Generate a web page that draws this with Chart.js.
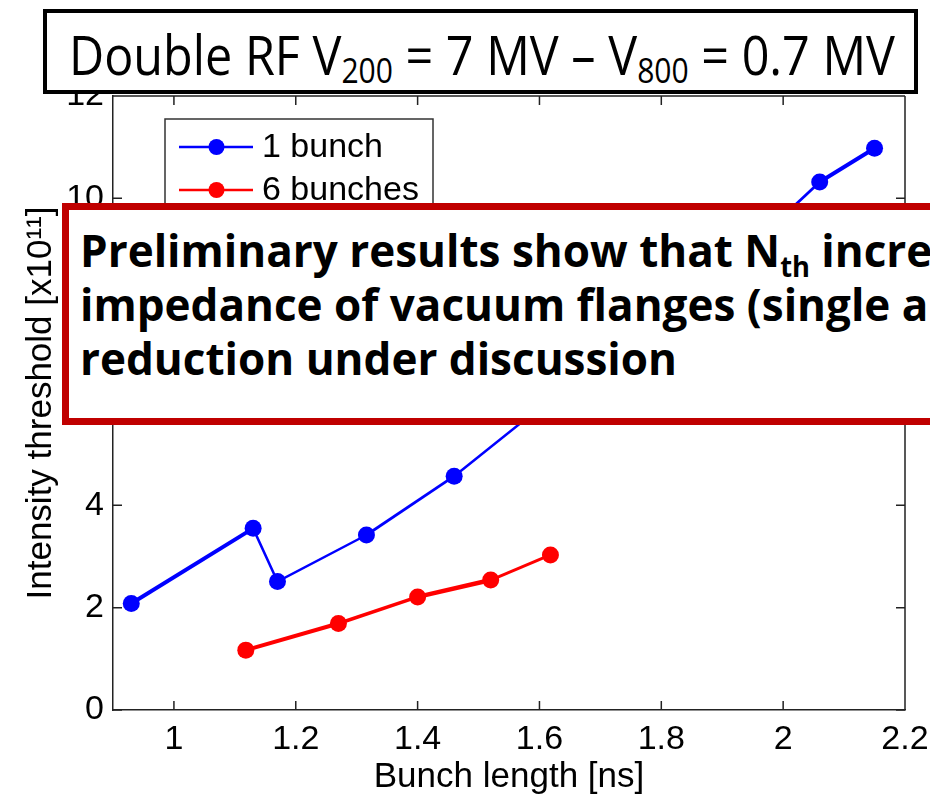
<!DOCTYPE html>
<html>
<head>
<meta charset="utf-8">
<script src="https://cdn.jsdelivr.net/npm/chart.js@4.4.1/dist/chart.umd.min.js"></script>
<style>
  html, body { margin: 0; padding: 0; background: #fff; }
  #wrap { position: relative; width: 930px; height: 797px; overflow: hidden; }
  #chart { position: absolute; left: 0; top: 0; }
  .titlebox { position: absolute; left: 43px; top: 9px; width: 875px; height: 85px; box-sizing: border-box; border: 4px solid #000; background: #fff; }
  .titletext { position: absolute; left: 69px; top: 26px; font-family: 'Open Sans', sans-serif; font-size: 55px; line-height: 55px; white-space: nowrap; transform-origin: 0 0; color: #000; }
  .titletext sub { font-size: 0.62em; line-height: 0; vertical-align: -0.24em; }
  .note { position: absolute; left: 62px; top: 203px; width: 900px; height: 222px; box-sizing: border-box; border: 7px solid #C00000; background: #fff; }
  .notetext { position: absolute; left: 80px; top: 223px; font-family: 'Open Sans', sans-serif; font-weight: bold; font-size: 45px; line-height: 54px; white-space: nowrap; transform-origin: 0 0; color: #000; }
  .notetext sub { font-size: 0.62em; line-height: 0; vertical-align: -0.36em; }
</style>
</head>
<body>
<div id="wrap">
  <canvas id="chart" width="930" height="797"></canvas>
  <div class="titlebox"></div>
  <div class="titletext" id="title">Double RF V<sub>200</sub> = 7 MV – V<sub>800</sub> = 0.7 MV</div>
  <div class="note"></div>
  <div class="notetext" id="note"><span>Preliminary results show that N<sub>th</sub> increases</span><br><span>impedance of vacuum flanges (single and</span><br><span id="noteLast">reduction under discussion</span></div>
</div>
<script>
// Instability intensity threshold versus bunch length, double RF system
const bunchLength1 = [0.93, 1.13, 1.17, 1.316, 1.46, 1.60, 1.75, 1.88, 2.00, 2.06, 2.15];
const threshold1   = [2.08, 3.55, 2.51, 3.42, 4.57, 5.9, 7.2, 8.3, 9.65, 10.32, 10.98];
const bunchLength6 = [1.118, 1.27, 1.40, 1.52, 1.618];
const threshold6   = [1.17, 1.69, 2.21, 2.54, 3.03];
const seriesNames  = ['1 bunch', '6 bunches'];
const seriesColors = ['#0000FF', '#FF0000'];
const xTicks = [1, 1.2, 1.4, 1.6, 1.8, 2, 2.2];
const yTicks = [0, 2, 4, 6, 8, 10, 12];
const xTitle = 'Bunch length [ns]';
const yTitle = 'Intensity threshold [x10\u00B9\u00B9]';

// Line width of each segment (overlapping runs are drawn heavier)
const segWidth1 = [4, 2.5, 2.5, 2.8, 2.5, 2.5, 2.5, 2.5, 2.8, 4];
const segWidth6 = [4, 3.5, 4.5, 3];

const FONT = "'Liberation Sans', Arial, sans-serif";
const AXIS_COLOR = '#222';

// Plot box edges in canvas pixels
const AREA = { left: 113, right: 905, top: 96, bottom: 710 };

function toPoints(xs, ys) {
  return xs.map((x, i) => ({ x: x, y: ys[i] }));
}

// Pin the chart area to the axes box
const pinArea = {
  id: 'pinArea',
  afterLayout(chart) {
    const a = chart.chartArea;
    a.left = AREA.left; a.right = AREA.right; a.top = AREA.top; a.bottom = AREA.bottom;
    a.width = AREA.right - AREA.left; a.height = AREA.bottom - AREA.top;
    const { x, y } = chart.scales;
    x.left = AREA.left; x.right = AREA.right; x.width = a.width;
    x.top = AREA.bottom; x.bottom = chart.height;
    y.top = AREA.top; y.bottom = AREA.bottom; y.height = a.height;
    y.left = 0; y.right = AREA.left; y.width = AREA.left;
    x.configure(); y.configure();
    x._labelItems = null; y._labelItems = null;
  }
};

// MATLAB-style box: ticks pointing inward on all four sides
const boxTicks = {
  id: 'boxTicks',
  afterDatasetsDraw(chart) {
    const { ctx, chartArea: a, scales: { x, y } } = chart;
    const len = 9;
    ctx.save();
    ctx.strokeStyle = AXIS_COLOR;
    ctx.lineWidth = 1.5;
    ctx.beginPath();
    ctx.moveTo(a.left, a.top); ctx.lineTo(a.right, a.top);
    ctx.moveTo(a.right, a.top); ctx.lineTo(a.right, a.bottom);
    xTicks.forEach(v => {
      const px = x.getPixelForValue(v);
      ctx.moveTo(px, a.bottom); ctx.lineTo(px, a.bottom - len);
      ctx.moveTo(px, a.top); ctx.lineTo(px, a.top + len);
    });
    yTicks.forEach(v => {
      const py = y.getPixelForValue(v);
      ctx.moveTo(a.left, py); ctx.lineTo(a.left + len, py);
      ctx.moveTo(a.right, py); ctx.lineTo(a.right - len, py);
    });
    ctx.stroke();
    ctx.restore();
  }
};

// Legend box in the upper-left corner of the axes
const insetLegend = {
  id: 'insetLegend',
  afterDatasetsDraw(chart) {
    const { ctx } = chart;
    const box = { left: 165, top: 119, right: 433, bottom: 228 };
    ctx.save();
    ctx.fillStyle = '#fff';
    ctx.fillRect(box.left, box.top, box.right - box.left, box.bottom - box.top);
    ctx.strokeStyle = '#333';
    ctx.lineWidth = 1.5;
    ctx.strokeRect(box.left, box.top, box.right - box.left, box.bottom - box.top);
    ctx.font = '34px ' + FONT;
    ctx.textBaseline = 'middle';
    ctx.textAlign = 'left';
    seriesNames.forEach((name, i) => {
      const yy = 147 + i * 43;
      ctx.strokeStyle = seriesColors[i];
      ctx.lineWidth = 2.5;
      ctx.beginPath();
      ctx.moveTo(179, yy); ctx.lineTo(253, yy);
      ctx.stroke();
      ctx.fillStyle = seriesColors[i];
      ctx.beginPath();
      ctx.arc(216.5, yy, 8, 0, Math.PI * 2);
      ctx.fill();
      ctx.fillStyle = '#000';
      ctx.fillText(name, 262, yy + 1);
    });
    ctx.restore();
  }
};

Chart.defaults.font.family = FONT;
Chart.defaults.color = '#000';

new Chart(document.getElementById('chart'), {
  type: 'line',
  data: {
    datasets: [
      {
        label: seriesNames[0],
        data: toPoints(bunchLength1, threshold1),
        borderColor: seriesColors[0],
        backgroundColor: seriesColors[0],
        borderWidth: 2.5,
        segment: { borderWidth: c => segWidth1[c.p0DataIndex] },
        pointRadius: 8.5,
        pointBorderWidth: 0,
        pointHoverRadius: 8.5,
        tension: 0
      },
      {
        label: seriesNames[1],
        data: toPoints(bunchLength6, threshold6),
        borderColor: seriesColors[1],
        backgroundColor: seriesColors[1],
        borderWidth: 2.5,
        segment: { borderWidth: c => segWidth6[c.p0DataIndex] },
        pointRadius: 8.5,
        pointBorderWidth: 0,
        pointHoverRadius: 8.5,
        tension: 0
      }
    ]
  },
  options: {
    responsive: false,
    animation: false,
    events: [],
    layout: { padding: { left: 0, top: 96, right: 25, bottom: 0 } },
    plugins: {
      legend: { display: false },
      tooltip: { enabled: false }
    },
    scales: {
      x: {
        type: 'linear',
        min: 0.9,
        max: 2.2,
        afterBuildTicks: s => { s.ticks = xTicks.map(v => ({ value: v })); },
        afterFit: s => { s.height = 87; },
        grid: { display: false, drawTicks: false },
        border: { display: true, color: AXIS_COLOR, width: 1.5 },
        ticks: {
          padding: 9,
          maxRotation: 0,
          autoSkip: false,
          font: { size: 34 },
          color: '#000',
          callback: v => String(v)
        },
        title: {
          display: true,
          text: xTitle,
          font: { size: 35, lineHeight: 1.0 },
          padding: { top: 0, bottom: 2 },
          color: '#000'
        }
      },
      y: {
        type: 'linear',
        min: 0,
        max: 12,
        afterBuildTicks: s => { s.ticks = yTicks.map(v => ({ value: v })); },
        afterFit: s => { s.width = 113; },
        grid: { display: false, drawTicks: false },
        border: { display: true, color: AXIS_COLOR, width: 1.5 },
        ticks: {
          padding: 9,
          autoSkip: false,
          font: { size: 34 },
          color: '#000',
          callback: v => String(v)
        },
        title: {
          display: true,
          text: yTitle,
          font: { size: 35, lineHeight: 1.2 },
          padding: { top: 20, bottom: 0 },
          color: '#000'
        }
      }
    }
  },
  plugins: [pinArea, boxTicks, insetLegend]
});

// Narrow the overlay text blocks to their set widths
function fitText() {
  const title = document.getElementById('title');
  const tw = title.getBoundingClientRect().width;
  title.style.transform = 'scaleX(' + (826 / tw) + ')';
  const last = document.getElementById('noteLast');
  const lw = last.getBoundingClientRect().width;
  document.getElementById('note').style.transform = 'scaleX(' + (597 / lw) + ')';
}
if (document.fonts && document.fonts.ready) {
  document.fonts.ready.then(fitText);
} else {
  fitText();
}
</script>
</body>
</html>
